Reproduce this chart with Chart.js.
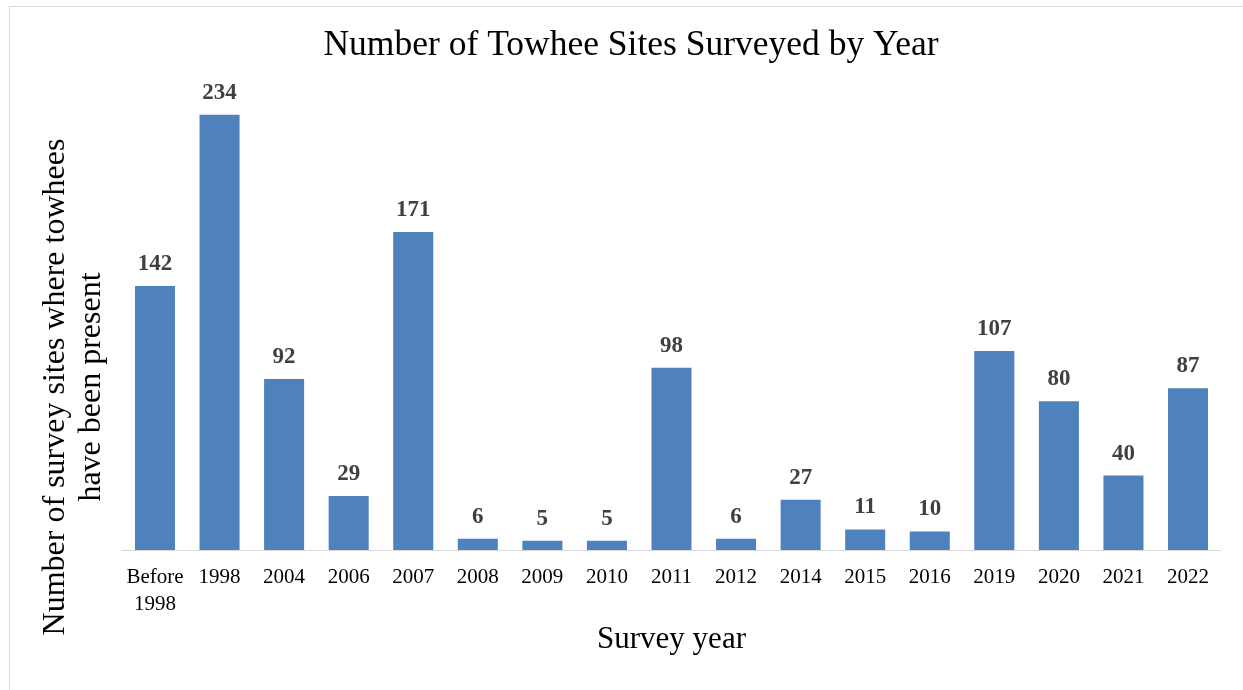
<!DOCTYPE html>
<html>
<head>
<meta charset="utf-8">
<script src="https://cdn.jsdelivr.net/npm/chart.js@4"></script>
<style>
  body { margin: 0; background: #fff; overflow: hidden; }
  #marco { position: absolute; left: 9px; top: 6px; width: 1300px; height: 800px; border: 1px solid #d9d9d9; }
  #lienzo { position: absolute; left: 0; top: 0; }
</style>
</head>
<body>
<div id="marco"></div>
<canvas id="lienzo" width="1243" height="690"></canvas>
<script>
const categorias = [['Before', '1998'], '1998', '2004', '2006', '2007', '2008', '2009', '2010',
  '2011', '2012', '2014', '2015', '2016', '2019', '2020', '2021', '2022'];
const sitios = [142, 234, 92, 29, 171, 6, 5, 5, 98, 6, 27, 11, 10, 107, 80, 40, 87];

const titulo = 'Number of Towhee Sites Surveyed by Year';
const tituloY = ['Number of survey sites where towhees', 'have been present'];
const tituloX = 'Survey year';

const serif = '"Liberation Serif", "Times New Roman", serif';

// etiquetas de valor encima de cada barra, titulo general y titulo del eje Y
const textos = {
  id: 'textos',
  afterDatasetsDraw(chart) {
    const ctx = chart.ctx;
    const meta = chart.getDatasetMeta(0);
    ctx.save();
    ctx.fillStyle = '#404040';
    ctx.font = 'bold 23px ' + serif;
    ctx.textAlign = 'center';
    ctx.textBaseline = 'middle';
    meta.data.forEach((bar, i) => {
      ctx.fillText(String(sitios[i]), bar.x, bar.y - 22);
    });
    ctx.restore();
  },
  afterDraw(chart) {
    const ctx = chart.ctx;
    ctx.save();
    ctx.fillStyle = '#000';
    ctx.textAlign = 'center';
    ctx.textBaseline = 'middle';
    ctx.font = '35.5px ' + serif;
    ctx.fillText(titulo, 631, 46);

    ctx.font = '32px ' + serif;
    ctx.translate(74, 387);
    ctx.rotate(-Math.PI / 2);
    ctx.fillText(tituloY[0], 0, -18);
    ctx.fillText(tituloY[1], 0, 18);
    ctx.restore();
  }
};

const ctx = document.getElementById('lienzo').getContext('2d');
new Chart(ctx, {
  type: 'bar',
  data: {
    labels: categorias,
    datasets: [{
      data: sitios,
      backgroundColor: '#4f81bd',
      borderWidth: 0,
      barPercentage: 0.62,
      categoryPercentage: 1
    }]
  },
  options: {
    responsive: false,
    animation: false,
    layout: { padding: { left: 122.7, right: 22.7, top: 85, bottom: 0 } },
    plugins: {
      legend: { display: false },
      tooltip: { enabled: false }
    },
    scales: {
      x: {
        grid: { display: false, drawTicks: false },
        border: { display: true, color: '#d9d9d9', width: 1 },
        ticks: {
          color: '#000',
          padding: 14,
          maxRotation: 0,
          autoSkip: false,
          font: { family: serif, size: 21, lineHeight: 1.3 }
        },
        title: {
          display: true,
          text: tituloX,
          color: '#000',
          font: { family: serif, size: 31, lineHeight: 1.2 },
          padding: { top: 0, bottom: 32 }
        },
        afterFit(escala) { escala.height = 140; }
      },
      y: {
        display: false,
        min: 0,
        max: 250
      }
    }
  },
  plugins: [textos]
});
</script>
</body>
</html>
